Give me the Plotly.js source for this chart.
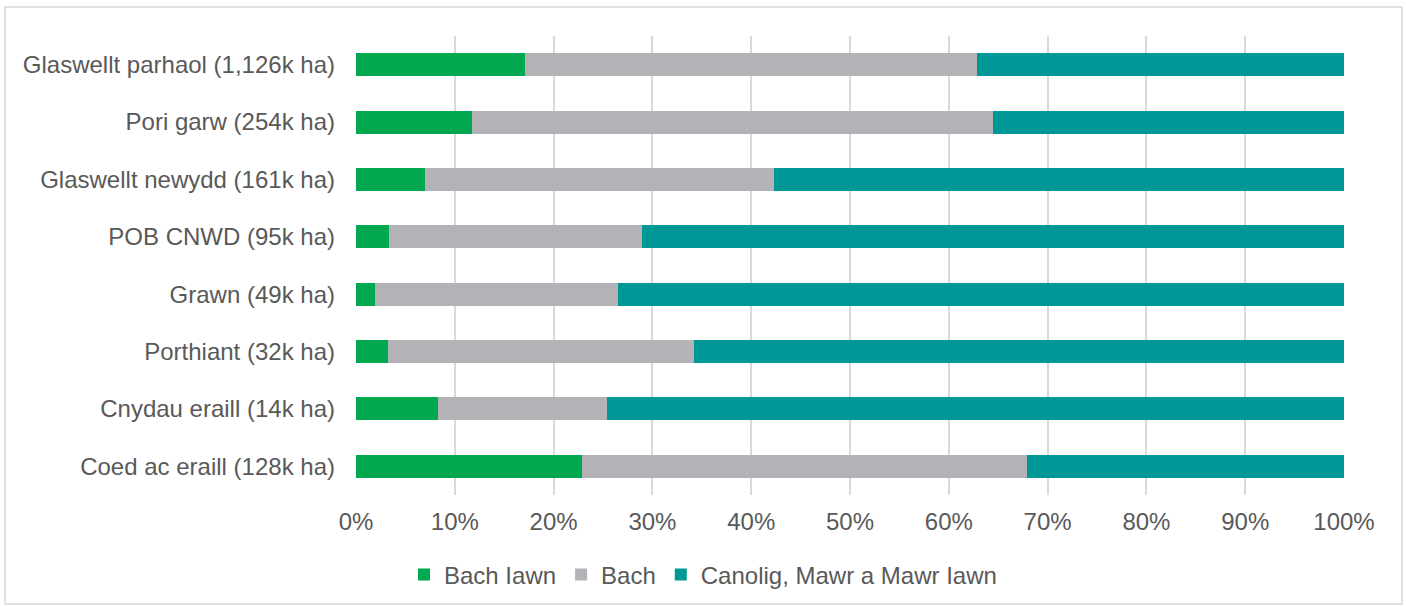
<!DOCTYPE html>
<html>
<head>
<meta charset="utf-8">
<script src="https://cdn.plot.ly/plotly-3.0.1.min.js"></script>
<style>
  html, body { margin: 0; padding: 0; background: #ffffff; }
  #chart { width: 1406px; height: 606px; }
</style>
</head>
<body>
<div id="chart"></div>
<script>
const categories = [
  "Glaswellt parhaol (1,126k ha)",
  "Pori garw (254k ha)",
  "Glaswellt newydd (161k ha)",
  "POB CNWD (95k ha)",
  "Grawn (49k ha)",
  "Porthiant (32k ha)",
  "Cnydau eraill (14k ha)",
  "Coed ac eraill (128k ha)"
];
const seriesNames = ["Bach Iawn", "Bach", "Canolig, Mawr a Mawr Iawn"];
const bachIawn = [17.1, 11.7, 7.0, 3.3, 1.9, 3.2, 8.3, 22.9];
const bach     = [45.8, 52.8, 35.3, 25.6, 24.6, 31.0, 17.1, 45.0];
const canolig  = [37.1, 35.5, 57.7, 71.1, 73.5, 65.8, 74.6, 32.1];
const xTickVals = [0, 10, 20, 30, 40, 50, 60, 70, 80, 90, 100];

const colors = ["#00a94f", "#b2b3b6", "#009797"];
const values = [bachIawn, bach, canolig];

const traces = values.map((v, i) => ({
  type: "bar",
  orientation: "h",
  name: seriesNames[i],
  x: v,
  y: categories,
  marker: { color: colors[i], line: { width: 0 } },
  hoverinfo: "x+y+name"
}));

const font = { family: "'Liberation Sans', Arial, sans-serif", size: 24, color: "#595959" };

// paper coords for outer border
const L = 356, R = 62, T = 36, B = 111, W = 1406, H = 606;
const pw = W - L - R, ph = H - T - B;
const px = (p) => (p - L) / pw;
const py = (p) => (H - B - p) / ph;

const layout = {
  width: W, height: H,
  margin: { l: L, r: R, t: T, b: B, pad: 0 },
  barmode: "stack",
  bargap: 0.6,
  paper_bgcolor: "#ffffff",
  plot_bgcolor: "#ffffff",
  font: font,
  showlegend: true,
  legend: {
    orientation: "h",
    xref: "container", yref: "container",
    x: 0.5, xanchor: "center",
    y: 1 - 575 / 606, yanchor: "middle",
    font: font,
    traceorder: "normal",
    itemwidth: 30
  },
  xaxis: {
    range: [0, 100],
    tickvals: xTickVals,
    ticktext: xTickVals.map(v => v + "%"),
    showgrid: true,
    gridcolor: "#d9d9d9",
    gridwidth: 1.5,
    zeroline: false,
    showline: false,
    ticks: "",
    ticklabelstandoff: 10,
    tickfont: font,
    fixedrange: true
  },
  yaxis: {
    type: "category",
    autorange: "reversed",
    showgrid: false,
    zeroline: false,
    showline: false,
    ticks: "",
    ticklabelstandoff: 20,
    tickfont: font,
    fixedrange: true
  },
  shapes: [
    {
      type: "rect", xref: "paper", yref: "paper",
      x0: px(5), x1: px(1402), y0: py(604), y1: py(7),
      line: { color: "#d9d9d9", width: 1.5 },
      fillcolor: "rgba(0,0,0,0)",
      layer: "below"
    }
  ]
};

Plotly.newPlot("chart", traces, layout, { displayModeBar: false, staticPlot: false });
</script>
</body>
</html>
